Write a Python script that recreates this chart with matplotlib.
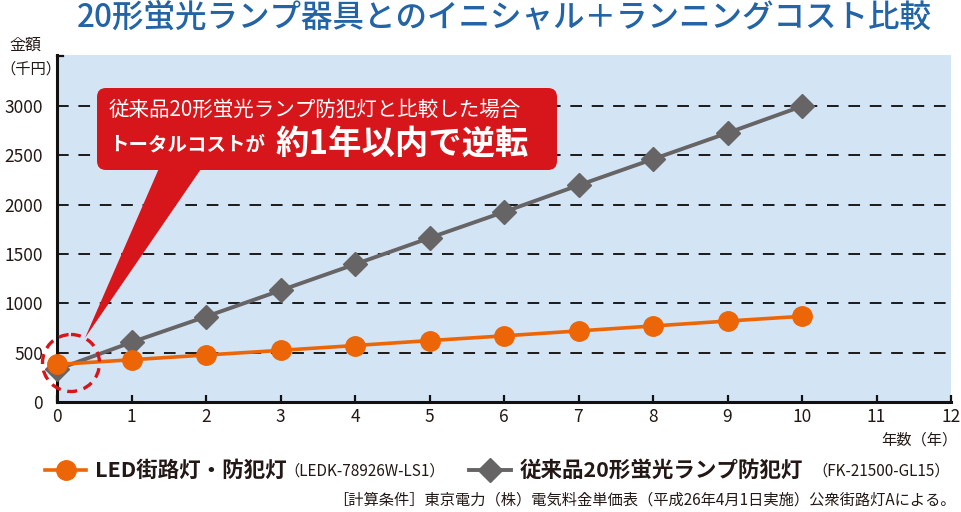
import matplotlib
matplotlib.use("Agg")
import matplotlib.pyplot as plt
from matplotlib.patches import FancyBboxPatch, Polygon, Circle
from matplotlib.lines import Line2D

plt.rcParams['font.family'] = ['Noto Sans CJK JP', 'DejaVu Sans']

# ---- data ----
years = [0, 1, 2, 3, 4, 5, 6, 7, 8, 9, 10]
led_cost = [380, 428, 476, 523, 572, 622, 670, 720, 770, 820, 868]
fl_cost = [330, 605, 865, 1130, 1395, 1662, 1925, 2195, 2460, 2725, 2996]
x_ticks = list(range(0, 13))
y_ticks = [0, 500, 1000, 1500, 2000, 2500, 3000]

title = "20形蛍光ランプ器具とのイニシャル＋ランニングコスト比較"
led_name = "LED街路灯・防犯灯"
led_model = "（LEDK-78926W-LS1）"
fl_name = "従来品20形蛍光ランプ防犯灯"
fl_model = "（FK-21500-GL15）"
note = "［計算条件］東京電力（株）電気料金単価表（平成26年4月1日実施）公衆街路灯Aによる。"

ORANGE = "#ec6608"
GREY = "#666464"
RED = "#d7161b"
BG = "#d3e4f5"
DARK = "#231815"
TITLE_BLUE = "#2264a6"

W, H = 961, 512
fig = plt.figure(figsize=(W / 100, H / 100), dpi=100)

# main axes (pixels: left 57, right 951, top 55, bottom 402)
ax = fig.add_axes([57 / W, (H - 402) / H, (951 - 57) / W, (402 - 55) / H])
ax.set_facecolor(BG)
ax.set_xlim(0, 12)
ax.set_ylim(0, 3515)
for s in ['top', 'right']:
    ax.spines[s].set_visible(False)
ax.spines['left'].set_linewidth(2.2)
ax.spines['bottom'].set_linewidth(2.2)
ax.spines['left'].set_color('#111111')
ax.spines['bottom'].set_color('#111111')

ax.set_xticks(x_ticks)
ax.set_xticklabels([str(t) for t in x_ticks], fontsize=12.5, color=DARK)
ax.tick_params(axis='x', direction='in', length=5, width=1.6, pad=4, colors='#111111', labelcolor=DARK)
ax.set_yticks(y_ticks)
ax.set_yticklabels([str(t) for t in y_ticks], fontsize=12.5, color=DARK)
ax.tick_params(axis='y', length=0, pad=10, labelcolor=DARK)

for yv in y_ticks[1:]:
    ax.axhline(yv, color='#1a1a1a', lw=1.4, ls=(0, (6, 5)), zorder=1)

ax.plot(years, fl_cost, color=GREY, lw=2.8, marker='D', ms=12,
        mfc=GREY, mec=GREY, zorder=3, clip_on=False)
ax.plot(years, led_cost, color=ORANGE, lw=2.6, marker='o', ms=14,
        mfc=ORANGE, mec=ORANGE, zorder=4, clip_on=False)

# overlay in pixel coordinates for annotations and text
ov = fig.add_axes([0, 0, 1, 1])
ov.set_xlim(0, W)
ov.set_ylim(H, 0)
ov.axis('off')
ov.patch.set_alpha(0)

# top bracket stub on left spine
ov.add_line(Line2D([57, 63], [55.5, 55.5], color='#111111', lw=1.6))

# callout
ov.add_patch(Polygon([(160, 166), (203, 166), (85, 338)], closed=True,
                     facecolor=RED, edgecolor='none', zorder=5))
ov.add_patch(FancyBboxPatch((97, 88), 460, 82,
                            boxstyle="round,pad=0,rounding_size=9",
                            facecolor=RED, edgecolor='none', zorder=5))
ov.text(109, 110, "従来品20形蛍光ランプ防犯灯と比較した場合", color='white',
        fontsize=14.8, va='center', ha='left', zorder=6)
ov.text(109, 145, "トータルコストが", color='white', fontsize=14,
        fontweight='bold', va='center', ha='left', zorder=6)
ov.text(276, 144, "約1年以内で逆転", color='white', fontsize=24,
        fontweight='bold', va='center', ha='left', zorder=6)

# dashed circle
ov.add_patch(Circle((71, 363), 28.5, facecolor='none', edgecolor=RED,
                    lw=2.4, ls=(0, (3, 2)), zorder=6))

# title
ov.text(504, 18, title, color=TITLE_BLUE, fontsize=22.7, fontweight='medium',
        ha='center', va='center')

# y axis label
ov.text(25, 45, "金額", fontsize=11.5, color=DARK, ha='center', va='center')
ov.text(0, 69, "（千円）", fontsize=11, color=DARK, ha='left', va='center')

# x axis label
ov.text(958, 440, "年数（年）", fontsize=11, color=DARK, ha='right', va='center')

# legend
ly = 470
ov.add_line(Line2D([45, 65.5, 86], [ly, ly, ly], color=ORANGE, lw=2.6, marker='o',
                   markevery=[1], ms=14, mfc=ORANGE, mec=ORANGE))
ov.text(95, ly, led_name, fontsize=15.5, fontweight='bold', color=DARK,
        ha='left', va='center')
ov.text(284, ly + 1, led_model, fontsize=11, color=DARK, ha='left', va='center')
ov.add_line(Line2D([469, 490, 511], [ly, ly, ly], color=GREY, lw=2.8, marker='D',
                   markevery=[1], ms=12, mfc=GREY, mec=GREY))
ov.text(520, ly, fl_name, fontsize=15.5, fontweight='bold', color=DARK,
        ha='left', va='center')
ov.text(812, ly + 1, fl_model, fontsize=11, color=DARK, ha='left', va='center')

# footnote
ov.text(956, 500, note, fontsize=11, color=DARK, ha='right', va='center')

fig.savefig("out.png", dpi=100)
